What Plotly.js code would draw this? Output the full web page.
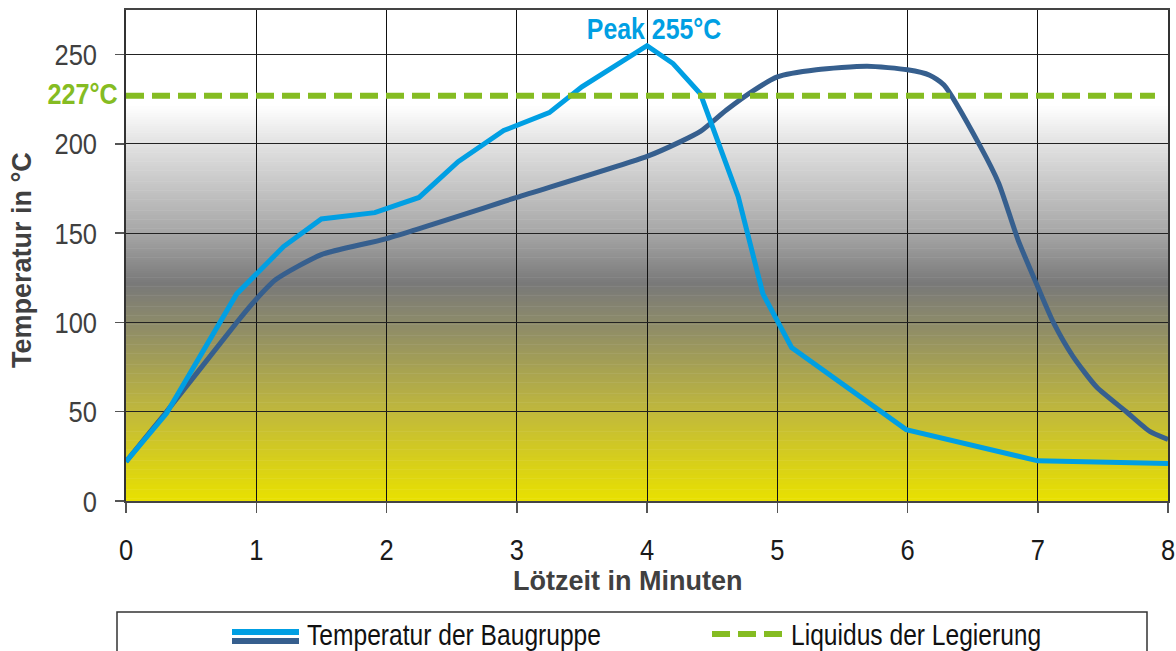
<!DOCTYPE html>
<html><head><meta charset="utf-8">
<script src="https://cdn.plot.ly/plotly-3.0.1.min.js"></script>
<style>html,body{margin:0;padding:0;background:#fff;overflow:hidden}</style>
</head><body>
<div id="chart" style="width:1176px;height:651px"></div>
<script>
// ---- data ----
const xTicks = [0, 1, 2, 3, 4, 5, 6, 7, 8];
const yTicks = [0, 50, 100, 150, 200, 250];

const timeLight = [0, 0.31, 0.85, 1.21, 1.5, 1.91, 2.25, 2.55, 2.9, 3.25, 3.5, 4.0, 4.2, 4.41, 4.7, 4.89, 5.11, 5.99, 7.0, 8.0];
const tempLight = [22, 49, 116, 142.5, 158, 161.5, 170, 190, 207.5, 217.5, 232, 255, 245, 228, 170.5, 116, 86, 40, 22.5, 21];

const timeDark = [0, 0.3, 0.85, 1.0, 1.15, 1.5, 2.0, 3.0, 4.0, 4.25, 4.41, 4.61, 4.82, 5.0, 5.3, 5.69, 6.0, 6.17, 6.28, 6.56, 6.7, 6.85, 7.0, 7.12, 7.27, 7.45, 7.68, 7.86, 8.0];
const tempDark = [22, 49, 100, 113, 124, 138, 147, 170, 193, 201, 207, 219, 230, 237.5, 241.5, 243.5, 241.5, 238.5, 233, 198.5, 178, 146, 120, 100, 81, 64, 50, 39, 34.5];

const liquidusTime = [0, 7.9];
const liquidusTemp = [227, 227];

const peakLabel = 'Peak 255°C';
const liquidusLabel = '227°C';
const seriesName1 = 'Temperatur der Baugruppe';
const seriesName2 = 'Liquidus der Legierung';
const xTitle = 'Lötzeit in Minuten';
const yTitle = 'Temperatur in °C';

// ---- styling ----
const SANS = '"Liberation Sans", Arial, Helvetica, sans-serif';
const cLight = '#009fe3', cDark = '#365f8e', cGreen = '#85bc22';

const W = 1176, H = 651, L = 126, R = 8, T = 10, B = 150;
const pw = W - L - R, ph = H - T - B;
const px = p => (p - L) / pw;
const py = p => (H - B - p) / ph;

// background gradient bands
const stops = [
  [0, [232, 224, 0]],
  [50, [192, 184, 60]],
  [100, [140, 138, 106]],
  [122, [121, 121, 121]],
  [150, [166, 166, 166]],
  [200, [226, 226, 226]],
  [222, [255, 255, 255]],
  [275, [255, 255, 255]]
];
function colAt(v) {
  for (let i = 0; i < stops.length - 1; i++) {
    const [a, ca] = stops[i], [b, cb] = stops[i + 1];
    if (v >= a && v <= b) {
      const t = (v - a) / (b - a);
      const c = ca.map((x, k) => Math.round(x + (cb[k] - x) * t));
      return `rgb(${c[0]},${c[1]},${c[2]})`;
    }
  }
  return '#fff';
}
const shapes = [];
const step = 1.25;
for (let v = 0; v < 275; v += step) {
  shapes.push({type: 'rect', xref: 'paper', yref: 'y', x0: 0, x1: 1, y0: v, y1: v + step + 0.3,
    fillcolor: colAt(v + step / 2), line: {width: 0}, layer: 'below'});
}
// manual legend box and samples
shapes.push({type: 'rect', xref: 'paper', yref: 'paper', x0: px(117), x1: px(1147), y0: py(612), y1: py(670),
  line: {color: '#333', width: 1.5}, fillcolor: 'rgba(0,0,0,0)'});
shapes.push({type: 'line', xref: 'paper', yref: 'paper', x0: px(232), x1: px(299), y0: py(632), y1: py(632),
  line: {color: cLight, width: 6}});
shapes.push({type: 'line', xref: 'paper', yref: 'paper', x0: px(232), x1: px(299), y0: py(641), y1: py(641),
  line: {color: cDark, width: 6}});
shapes.push({type: 'line', xref: 'paper', yref: 'paper', x0: px(712), x1: px(786), y0: py(634), y1: py(634),
  line: {color: cGreen, width: 6, dash: '18px,8px'}});

const traces = [
  {x: timeDark, y: tempDark, type: 'scatter', mode: 'lines', name: seriesName1, showlegend: false,
   line: {color: cDark, width: 5, shape: 'spline', smoothing: 0.6}, hoverinfo: 'skip'},
  {x: timeLight, y: tempLight, type: 'scatter', mode: 'lines', name: seriesName1, showlegend: false,
   line: {color: cLight, width: 5}, hoverinfo: 'skip'},
  {x: liquidusTime, y: liquidusTemp, type: 'scatter', mode: 'lines', name: seriesName2, showlegend: false,
   line: {color: cGreen, width: 6, dash: '18px,8px'}, hoverinfo: 'skip'}
];

// annotation list; 'squeeze' = horizontal condensing factor to mimic a condensed typeface
const annotations = [
  {text: '<b>' + peakLabel + '</b>', xref: 'x', yref: 'y', x: 4.05, y: 264.5, showarrow: false,
   xanchor: 'center', yanchor: 'middle', font: {family: SANS, size: 30, color: cLight}},
  {text: '<b>' + liquidusLabel + '</b>', xref: 'paper', yref: 'y', x: px(120), y: 228, showarrow: false,
   xanchor: 'right', yanchor: 'middle', font: {family: SANS, size: 30, color: cGreen}},
  {text: '<b>' + xTitle + '</b>', xref: 'paper', yref: 'paper', x: px(627), y: py(581), showarrow: false,
   xanchor: 'center', yanchor: 'middle', font: {family: SANS, size: 27, color: '#404040'}},
  {text: '<b>' + yTitle + '</b>', xref: 'paper', yref: 'paper', x: px(22), y: py(260), showarrow: false,
   textangle: -90, xanchor: 'center', yanchor: 'middle', font: {family: SANS, size: 27, color: '#404040'}},
  {text: seriesName1, xref: 'paper', yref: 'paper', x: px(305), y: py(634), showarrow: false,
   xanchor: 'left', yanchor: 'middle', font: {family: SANS, size: 30, color: '#111'}},
  {text: seriesName2, xref: 'paper', yref: 'paper', x: px(789), y: py(634), showarrow: false,
   xanchor: 'left', yanchor: 'middle', font: {family: SANS, size: 30, color: '#111'}}
];
const squeeze = [0.83, 0.84, 1, 1, 0.82, 0.82];

const layout = {
  width: W, height: H,
  margin: {l: L, r: R, t: T, b: B, pad: 0},
  paper_bgcolor: '#fff', plot_bgcolor: '#fff',
  showlegend: false,
  xaxis: {range: [0, 8], tickvals: xTicks, ticktext: xTicks.map(String), ticks: 'outside', ticklen: 10,
    tickcolor: '#555', tickwidth: 1.5, showgrid: true, gridcolor: '#111', gridwidth: 1,
    showline: true, linecolor: '#444', linewidth: 2, mirror: true, zeroline: false,
    tickfont: {family: SANS, size: 30, color: '#1a1a1a'}, ticklabelstandoff: 11,
    ticklabeloverflow: 'allow', fixedrange: true},
  yaxis: {range: [0, 275], tickvals: yTicks, ticktext: yTicks.map(String), ticks: 'outside', ticklen: 9,
    tickcolor: '#555', tickwidth: 1.5, showgrid: true, gridcolor: '#222', gridwidth: 1,
    showline: true, linecolor: '#333', linewidth: 2, mirror: true, zeroline: false,
    tickfont: {family: SANS, size: 30, color: '#404040'}, ticklabelstandoff: 12, fixedrange: true},
  shapes: shapes,
  annotations: annotations
};

function condense(el, s, mode) {
  const bb = el.getBBox();
  const ax = mode === 'left' ? bb.x : mode === 'right' ? bb.x + bb.width : bb.x + bb.width / 2;
  const t = el.getAttribute('transform') || '';
  el.setAttribute('transform', `${t} translate(${ax},0) scale(${s},1) translate(${-ax},0)`);
}

Plotly.newPlot('chart', traces, layout, {displayModeBar: false, staticPlot: true}).then(gd => {
  gd.querySelectorAll('.xtick text').forEach(t => condense(t, 0.85, 'center'));
  gd.querySelectorAll('.ytick text').forEach(t => condense(t, 0.85, 'right'));
  gd.querySelectorAll('g.annotation').forEach(g => {
    const i = +g.getAttribute('data-index');
    const t = g.querySelector('text');
    if (t && squeeze[i] !== undefined && squeeze[i] !== 1) condense(t, squeeze[i], annotations[i].xanchor);
  });
});
</script>
</body></html>
